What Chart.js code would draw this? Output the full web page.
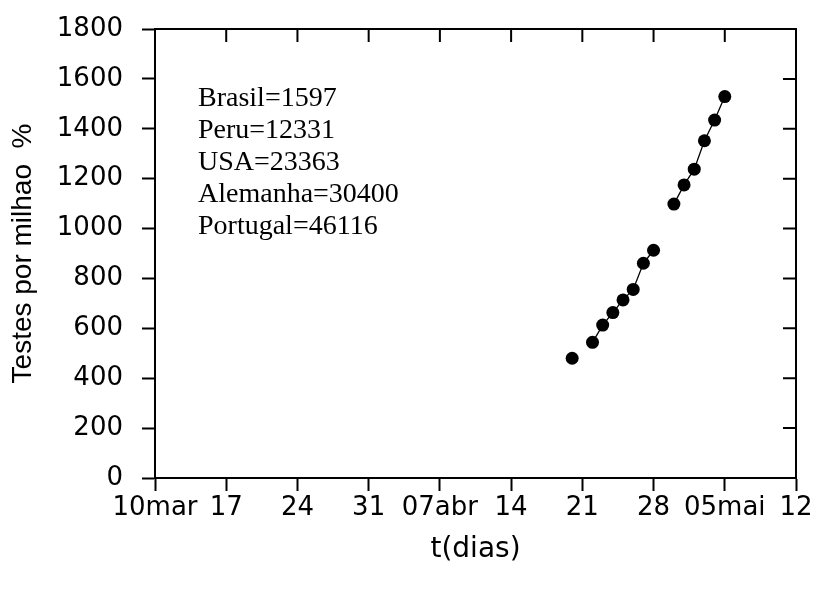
<!DOCTYPE html>
<html>
<head>
<meta charset="utf-8">
<script src="https://cdn.jsdelivr.net/npm/chart.js@4.4.0/dist/chart.umd.min.js"></script>
<style>
  html, body { margin: 0; padding: 0; background: #fff; }
  #wrap { width: 816px; height: 589px; position: relative; }
</style>
</head>
<body>
<div id="wrap"><canvas id="graphique"></canvas></div>
<script>
// days counted from 10 March
var dias = [41, 42, 43, 44, 45, 46, 47, 48, 49, 50, 51, 52, 53, 54, 55, 56];
var testes = [480, null, 544, 613, 663, 714, 756, 861, 913, null, 1098, 1175, 1238, 1352, 1435, 1529];
var xTickLabels = ['10mar', '17', '24', '31', '07abr', '14', '21', '28', '05mai', '12'];
var paises = ['Brasil=1597', 'Peru=12331', 'USA=23363', 'Alemanha=30400', 'Portugal=46116'];

var moldura = {
    id: 'moldura',
    afterDraw: function(chart) {
        var ctx = chart.ctx;
        var a = chart.chartArea;
        var sx = chart.scales.x, sy = chart.scales.y;
        ctx.save();
        ctx.strokeStyle = '#000';
        ctx.lineWidth = 2;
        ctx.beginPath();
        ctx.moveTo(a.left, a.top);
        ctx.lineTo(a.right, a.top);
        ctx.lineTo(a.right, a.bottom);
        sx.ticks.forEach(function(t) {
            var px = sx.getPixelForValue(t.value);
            ctx.moveTo(px, a.top);
            ctx.lineTo(px, a.top + 13);
        });
        sy.ticks.forEach(function(t) {
            var py = sy.getPixelForValue(t.value);
            ctx.moveTo(a.right, py);
            ctx.lineTo(a.right - 13, py);
        });
        ctx.stroke();

        ctx.fillStyle = '#000';
        ctx.font = '28px "Liberation Serif", "Times New Roman", serif';
        ctx.textBaseline = 'alphabetic';
        ctx.textAlign = 'left';
        paises.forEach(function(s, i) {
            ctx.fillText(s, a.left + 43, a.top + 77 + i * 32);
        });
        ctx.restore();
    }
};

document.addEventListener('DOMContentLoaded', function() {
    var ctx = document.getElementById('graphique').getContext('2d');
    var pontos = dias.map(function(d, i) { return { x: d, y: testes[i] }; });
    var graphique = new Chart(ctx, {
        type: 'line',
        data: {
            datasets: [{
                data: pontos,
                borderColor: '#000',
                borderWidth: 1.3,
                pointRadius: 6.5,
                pointBackgroundColor: '#000',
                pointBorderWidth: 0,
                spanGaps: false,
                tension: 0
            }]
        },
        options: {
            responsive: true,
            maintainAspectRatio: false,
            animation: false,
            layout: { padding: { top: 29, right: 20, left: 0, bottom: 0 } },
            plugins: { legend: { display: false }, tooltip: { enabled: false } },
            scales: {
                x: {
                    type: 'linear',
                    min: 0,
                    max: 63,
                    afterFit: function(s) { s.height = 111; s.paddingLeft = 0; s.paddingRight = 0; },
                    border: { display: true, color: '#000', width: 2 },
                    grid: { drawOnChartArea: false, tickLength: 13, tickColor: '#000', tickWidth: 2 },
                    ticks: {
                        stepSize: 7,
                        autoSkip: false,
                        maxRotation: 0,
                        padding: 2,
                        color: '#000',
                        font: { family: '"DejaVu Sans", sans-serif', size: 26, lineHeight: 1.2 },
                        callback: function(v) { return xTickLabels[Math.round(v / 7)]; }
                    },
                    title: {
                        display: true,
                        text: 't(dias)',
                        color: '#000',
                        font: { family: '"DejaVu Sans", sans-serif', size: 28, lineHeight: 1.2 },
                        padding: { top: 4, bottom: 22 }
                    }
                },
                y: {
                    min: 0,
                    max: 1800,
                    afterFit: function(s) { s.width = 155; s.paddingTop = 0; s.paddingBottom = 0; },
                    border: { display: true, color: '#000', width: 2 },
                    grid: { drawOnChartArea: false, tickLength: 13, tickColor: '#000', tickWidth: 2 },
                    ticks: {
                        stepSize: 200,
                        padding: 19,
                        color: '#000',
                        font: { family: '"DejaVu Sans", sans-serif', size: 26 },
                        callback: function(v) { return String(v); }
                    },
                    title: {
                        display: true,
                        text: 'Testes por milhao  %',
                        color: '#000',
                        font: { family: '"Liberation Sans", Arial, sans-serif', size: 28, lineHeight: 1.2 },
                        padding: { top: 6, bottom: 4 }
                    }
                }
            }
        },
        plugins: [moldura]
    });
});
</script>
</body>
</html>
